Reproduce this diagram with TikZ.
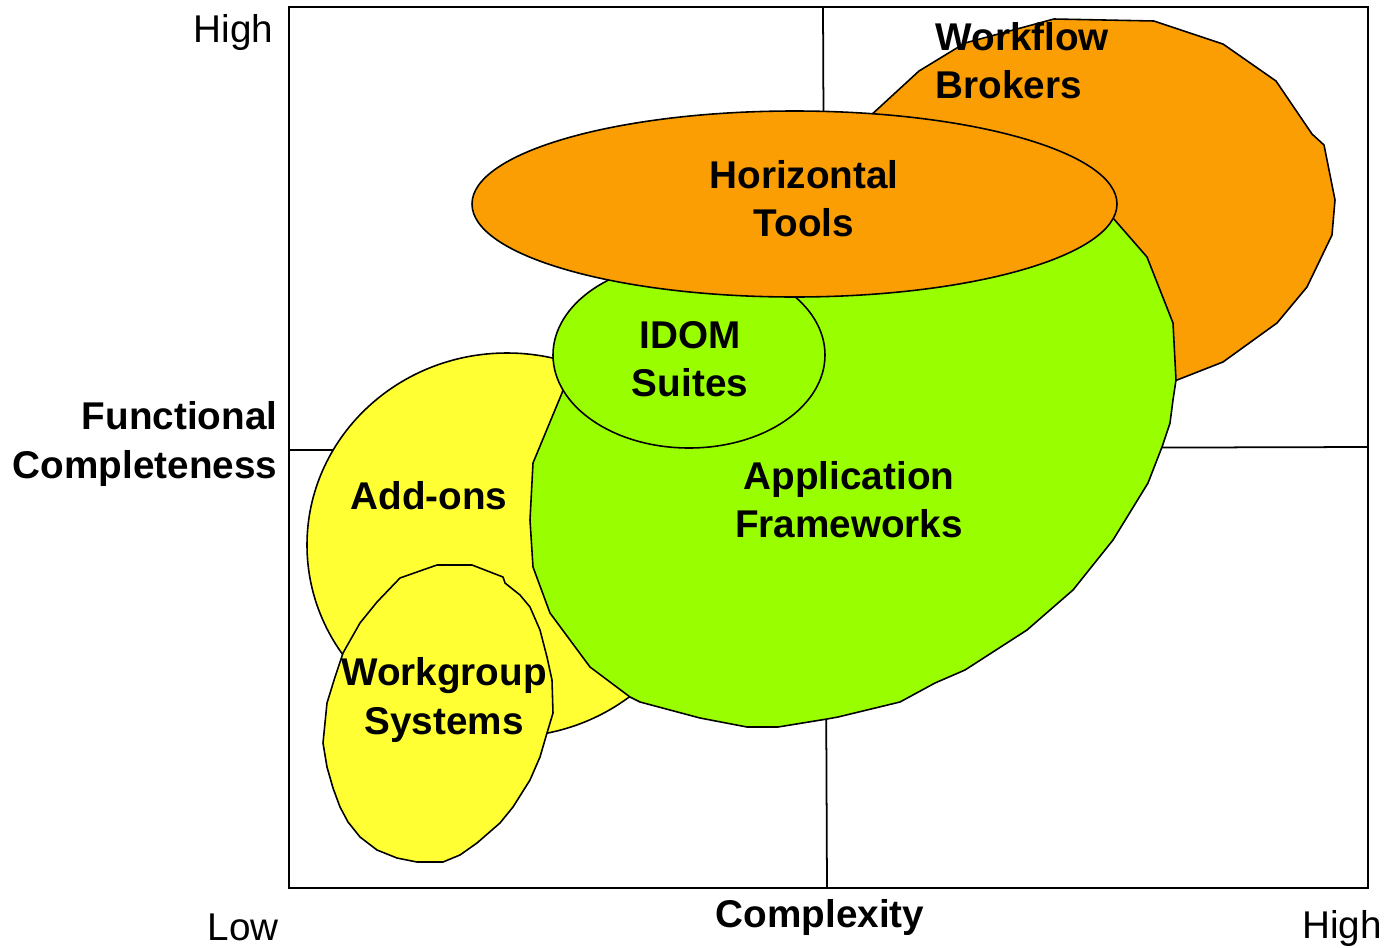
\documentclass[tikz,border=0pt]{standalone}
\usepackage{fontspec}
\setmainfont{Liberation Sans}
\usetikzlibrary{positioning}
\definecolor{c1}{RGB}{250,158,3}
\definecolor{c2}{RGB}{153,255,0}
\definecolor{c3}{RGB}{255,255,51}

\begin{document}
\begin{tikzpicture}[x=0.01cm,y=-0.01cm,
  blob/.style={draw=black,line width=0.45pt,line join=round},
  lbl/.style={font=\fontsize{11}{13.7}\selectfont\bfseries,align=center,inner sep=0pt},
  axlbl/.style={font=\fontsize{11}{13.7}\selectfont,inner sep=0pt}]
\useasboundingbox (0,0) rectangle (1384,948);

%%% Quadrant lines
\draw[line width=0.5pt] (823,7) -- (827,888);
\draw[line width=0.5pt] (289,450) -- (1368,447);

%%% Workflow Brokers
\draw[blob,fill=c1] (869,117) -- (919,71) -- (965,43) -- (1054,19) -- (1154,21) -- (1223,44)
  -- (1276,81) -- (1312,134) -- (1324,145) -- (1335,200) -- (1332,235) -- (1307,287)
  -- (1277,323) -- (1223,362) -- (1172,382) -- (1140,380) -- (1050,300) -- (900,150) -- cycle;

%%% Add-ons
\draw[blob,fill=c3] (507,545) ellipse (200 and 192);

%%% Application Frameworks
\draw[blob,fill=c2] (1113,218) -- (1147,257) -- (1173,323) -- (1176,380) -- (1173,400)
  -- (1170,423) -- (1162,447) -- (1148,483) -- (1113,540) -- (1073,590) -- (1027,630)
  -- (965,670) -- (935,683) -- (900,702) -- (838,717) -- (827,719) -- (778,727)
  -- (747,727) -- (700,718) -- (640,702) -- (630,697) -- (590,667) -- (550,613)
  -- (533,567) -- (530,520) -- (533,463) -- (562,393) -- (580,330) -- (650,270)
  -- (800,240) -- (1000,220) -- cycle;

%%% Workgroup Systems
\draw[blob,fill=c3] (437,565) -- (472,565) -- (503,577) -- (505,583) -- (520,595) -- (530,607)
  -- (540,630) -- (547,657) -- (552,680) -- (553,713) -- (547,733) -- (540,757)
  -- (530,780) -- (513,807) -- (500,823) -- (477,843) -- (460,855) -- (443,862)
  -- (417,862) -- (397,858) -- (377,850) -- (360,837) -- (348,822) -- (340,807)
  -- (333,788) -- (327,767) -- (323,743) -- (327,703) -- (335,677) -- (343,653)
  -- (360,623) -- (377,602) -- (400,578) -- (417,572) -- cycle;

%%% IDOM Suites and Horizontal Tools
\draw[blob,fill=c2] (689,355) ellipse (136 and 93);
\draw[blob,fill=c1] (794.5,204) ellipse (322.5 and 93);

%%% Frame
\draw[line width=0.6pt] (289,7) rectangle (1368,888);

%%% Labels
\node[lbl] (tools) at (804,199) {Horizontal\\Tools};
\node[lbl] (idom) at (690,359) {IDOM\\Suites};
\node[lbl] (frameworks) at (849,500) {Application\\Frameworks};
\node[lbl] (addons) at (429,496) {Add-ons};
\node[lbl] (workgroup) at (444,700) {Workgroup\\Systems};
\node[lbl,align=left,anchor=west] (brokers) at (935,61) {Workflow\\Brokers};

%%% Axes
\node[lbl,align=right,anchor=east] (funcax) at (278,444) {Functional\\Completeness};
\node[lbl] (complexax) at (820,917) {Complexity};
\node[axlbl,anchor=east] (yhigh) at (274,32) {High};
\node[axlbl] (xlow) at (243,927) {Low};
\node[axlbl] (xhigh) at (1342,928) {High};
\end{tikzpicture}
\end{document}
